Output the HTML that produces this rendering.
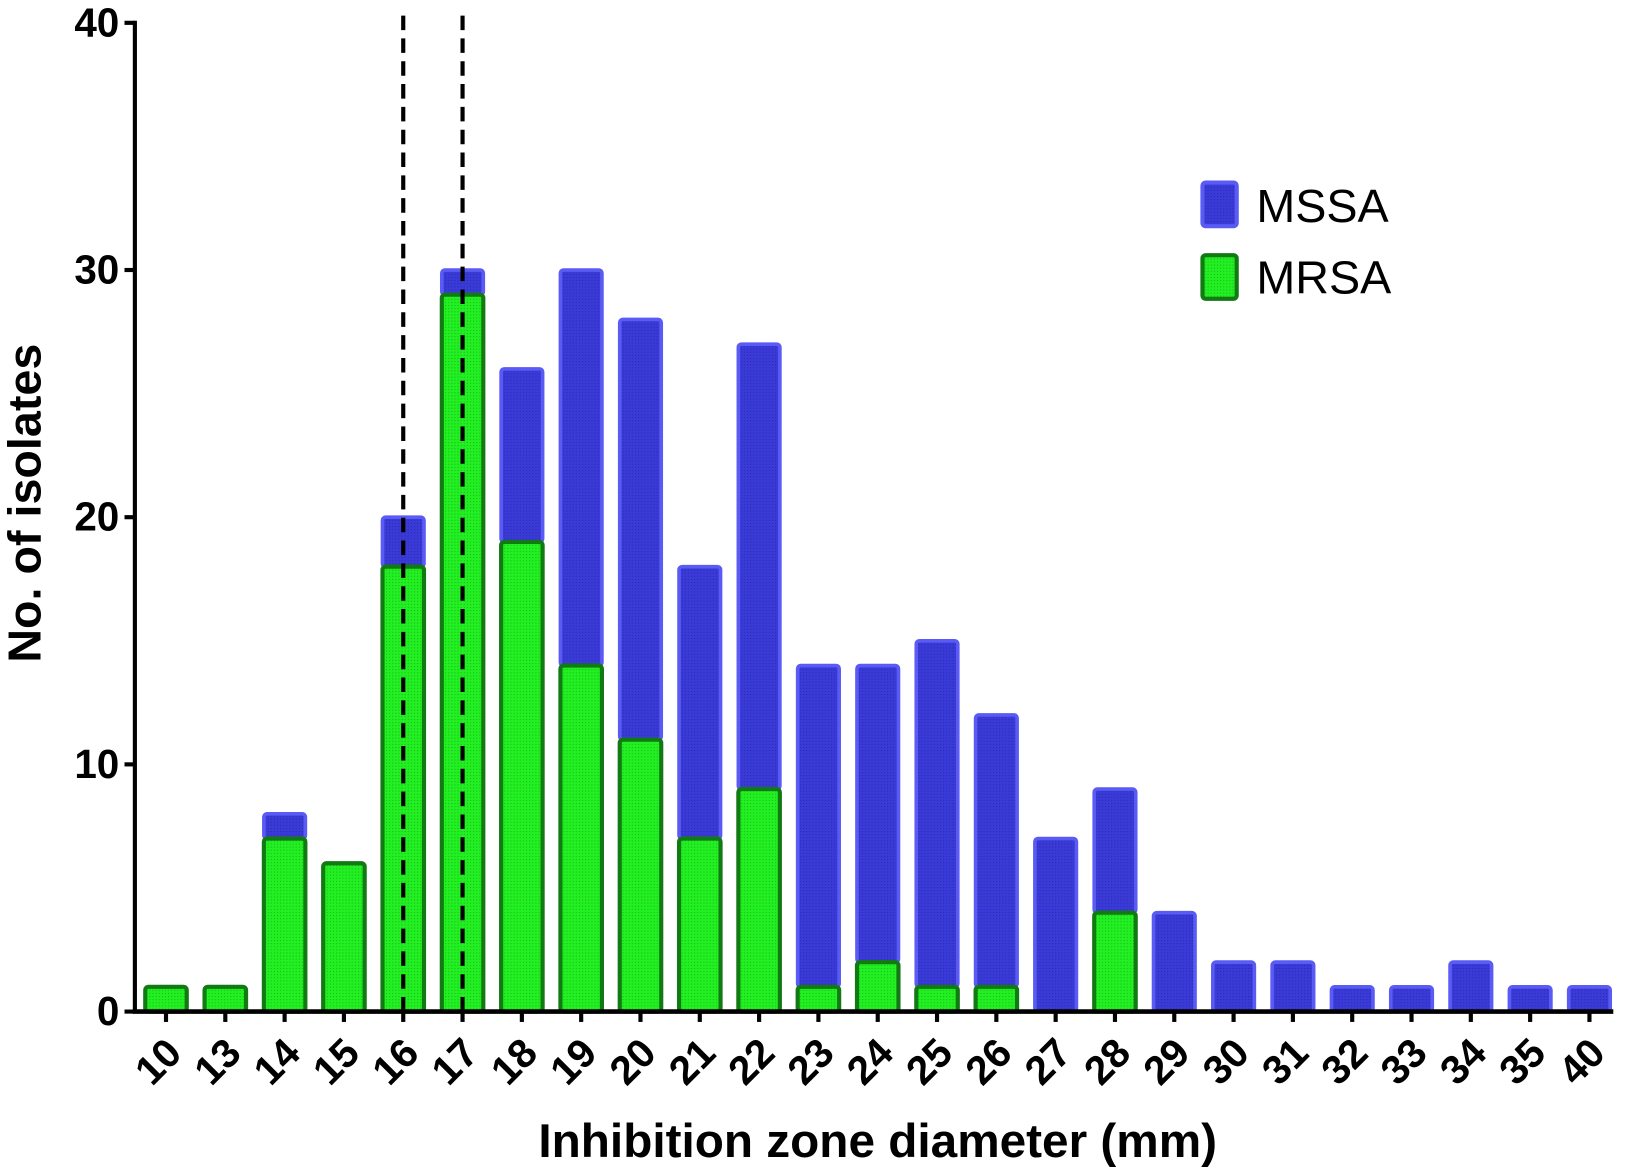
<!DOCTYPE html>
<html><head><meta charset="utf-8"><style>
body{margin:0;background:#fff;}
svg text{font-family:"Liberation Sans",Arial,sans-serif;}
</style></head><body>
<svg id="chart" width="1625" height="1170" xmlns="http://www.w3.org/2000/svg">
<defs>
<pattern id="dotB" width="3" height="3" patternUnits="userSpaceOnUse"><rect width="3" height="3" fill="#3a3ad8"/><rect width="1" height="1" fill="#2a2aa8"/></pattern>
<pattern id="dotG" width="3" height="3" patternUnits="userSpaceOnUse"><rect width="3" height="3" fill="#22f022"/><rect width="1" height="1" fill="#18b818"/></pattern>
</defs>
<g transform="scale(1.0375)">
<g id="bars"></g>
<g id="axes"></g>
<text x="0" y="0" transform="translate(39,485) rotate(-90)" text-anchor="middle" font-size="45" font-weight="bold">No. of isolates</text>
<text x="846" y="1115" text-anchor="middle" font-size="46" font-weight="bold">Inhibition zone diameter (mm)</text>
<g>
<rect x="1159" y="176" width="33" height="42" rx="3" fill="url(#dotB)" stroke="#5a5af5" stroke-width="4"/>
<text x="1211" y="214" font-size="45">MSSA</text>
<rect x="1159" y="246" width="33" height="42" rx="3" fill="url(#dotG)" stroke="#127a12" stroke-width="4"/>
<text x="1211" y="283" font-size="45">MRSA</text>
</g>
</g>
</svg>
<script>
const categories=["10","13","14","15","16","17","18","19","20","21","22","23","24","25","26","27","28","29","30","31","32","33","34","35","40"];
const mrsa=[1,1,7,6,18,29,19,14,11,7,9,1,2,1,1,0,4,0,0,0,0,0,0,0,0];
const mssa=[0,0,1,0,2,1,7,16,17,11,18,13,12,14,11,7,5,4,2,2,1,1,2,1,1];
const yTicks=[0,10,20,30,40];
const cutoffs=["16","17"];
const NS="http://www.w3.org/2000/svg";
const x0=130,x1=1555,yBase=975,yTop=22,yMax=40;
const firstC=160,lastC=1532;
const step=(lastC-firstC)/(categories.length-1);
const bw=40;
function xc(i){return firstC+step*i;}
function y(v){return yBase-(yBase-yTop)*v/yMax;}
function mk(tag,attrs,parent){const e=document.createElementNS(NS,tag);for(const k in attrs)e.setAttribute(k,attrs[k]);parent.appendChild(e);return e;}
const bars=document.getElementById('bars'),axes=document.getElementById('axes');
categories.forEach((c,i)=>{
  const tot=mrsa[i]+mssa[i];
  if(mssa[i]>0){
    const r=mk('rect',{x:xc(i)-bw/2,y:y(tot),width:bw,height:y(mrsa[i])-y(tot),rx:3,fill:'url(#dotB)',stroke:'#5a5af5','stroke-width':3.5},bars);
    
    
  }
  if(mrsa[i]>0){
    const r=mk('rect',{x:xc(i)-bw/2,y:y(mrsa[i]),width:bw,height:yBase-y(mrsa[i]),rx:3,fill:'url(#dotG)',stroke:'#127a12','stroke-width':4},bars);
    
    
  }
  const t=mk('text',{transform:`translate(${xc(i)-3},${yBase+22}) rotate(-45)`,'text-anchor':'end','font-size':39,'font-weight':'bold','dominant-baseline':'hanging'},axes);
  t.textContent=c;
  
  
  mk('line',{x1:xc(i),x2:xc(i),y1:yBase,y2:yBase+10,stroke:'#000','stroke-width':4},axes);
});
cutoffs.forEach(c=>{
  const i=categories.indexOf(c);
  const l=mk('line',{x1:xc(i),x2:xc(i),y1:15,y2:yBase,stroke:'#000','stroke-width':4,'stroke-dasharray':'14,8'},axes);
  
  
});
const ya=mk('line',{x1:x0,x2:x0,y1:yTop-2,y2:yBase+1.5,stroke:'#000','stroke-width':4},axes);


const xa=mk('line',{x1:x0-2,x2:x1,y1:yBase,y2:yBase,stroke:'#000','stroke-width':4.5},axes);


yTicks.forEach(v=>{
  mk('line',{x1:x0-10,x2:x0,y1:y(v),y2:y(v),stroke:'#000','stroke-width':4},axes);
  const t=mk('text',{x:x0-15,y:y(v)+13,'text-anchor':'end','font-size':39,'font-weight':'bold'},axes);
  t.textContent=v;
  
  
});
</script>
</body></html>
